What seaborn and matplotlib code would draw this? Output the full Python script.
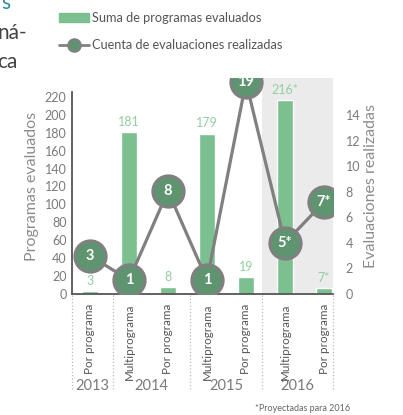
import pandas as pd
import seaborn as sns
import matplotlib.pyplot as plt
from matplotlib.patches import Patch
from matplotlib.lines import Line2D

# data
anios = ['2013', '2014', '2015', '2016']
categorias = ['Por programa', 'Multiprograma', 'Por programa', 'Multiprograma',
              'Por programa', 'Multiprograma', 'Por programa']
programas = [3, 181, 8, 179, 19, 216, 7]
programas_etiquetas = ['3', '181', '8', '179', '19', '216*', '7*']
evaluaciones_etiquetas = ['3', '1', '8', '1', '19', '5*', '7*']
evaluaciones_altura = [3.0, 1.1, 8.05, 1.1, 16.6, 4.0, 7.2]

sns.set_style('white')
plt.rcParams['font.family'] = ['Lato', 'DejaVu Sans']

verde_barra = '#7dc08f'
verde_texto = '#93cfa3'
verde_circulo = '#5e9470'
gris_linea = '#808080'
gris_texto = '#7a7a7a'

df = pd.DataFrame({'pos': [str(i) for i in range(len(programas))],
                   'programas': programas})

fig = plt.figure(figsize=(4.03, 4.15), dpi=100)
ax = fig.add_axes([72 / 403, 1 - 294 / 415, 261 / 403, 216 / 415])

ax.axvspan(4.42, 6.23, color='#ebebeb', zorder=0, lw=0)
sns.barplot(data=df, x='pos', y='programas', ax=ax, color=verde_barra,
            width=0.41, saturation=1, zorder=2)
for i, (v, t) in enumerate(zip(programas, programas_etiquetas)):
    ax.annotate(t, (i, v), xytext=(0, 3), textcoords='offset points',
                ha='center', va='bottom', color=verde_texto, fontsize=9)

ax.set_xlim(-0.46, 6.23)
ax.set_ylim(0, 241)
ax.set_yticks(range(0, 221, 20))
ax.set_xticks(range(len(categorias)))
ax.set_xticklabels(categorias, rotation=90, va='top', fontsize=8.4, color='#555555')
ax.tick_params(axis='x', length=0, pad=7)
ax.tick_params(axis='y', length=0, pad=4, labelsize=9, labelcolor=gris_texto)
ax.set_xlabel('')
ax.set_ylabel('Programas evaluados', fontsize=11.5, color='#8c8c8c', labelpad=4)
for s in ['top', 'right']:
    ax.spines[s].set_visible(False)
ax.spines['left'].set_bounds(0, 225)
for s in ['left', 'bottom']:
    ax.spines[s].set_color('#555555')
    ax.spines[s].set_linewidth(1.3)

# group separators and year labels
separadores = [-0.46, 0.58, 2.56, 4.42, 6.23]
for x in separadores:
    ax.axvline(x, ymin=-0.44, ymax=0, clip_on=False, ls=':', color='#bbbbbb', lw=0.9)
for j, anio in enumerate(anios):
    xc = (separadores[j] + separadores[j + 1]) / 2
    ax.text(xc, -0.425, anio, transform=ax.get_xaxis_transform(), ha='center',
            va='center', fontsize=10.5, color=gris_texto)

ax2 = ax.twinx()
sns.lineplot(x=list(range(len(evaluaciones_altura))), y=evaluaciones_altura, ax=ax2,
             color=gris_linea, lw=2.3, marker='o', markersize=22.5,
             markerfacecolor=verde_circulo, markeredgecolor=gris_linea,
             markeredgewidth=2.2, sort=False)
for i, (v, t) in enumerate(zip(evaluaciones_altura, evaluaciones_etiquetas)):
    ax2.text(i, v, t, ha='center', va='center', color='white', fontsize=10.5,
             fontweight='bold', zorder=5)
ax2.set_ylim(0, 16.9)
ax2.set_yticks(range(0, 15, 2))
ax2.tick_params(axis='y', length=0, pad=9, labelsize=9, labelcolor=gris_texto)
ax2.set_ylabel('Evaluaciones realizadas', fontsize=11.5, color='#8c8c8c', labelpad=3)
for s in ['top', 'right', 'left', 'bottom']:
    ax2.spines[s].set_visible(False)

handles = [Patch(color=verde_barra),
           Line2D([0], [0], color=gris_linea, lw=2, marker='o', markersize=9,
                  markerfacecolor=verde_circulo, markeredgecolor=gris_linea,
                  markeredgewidth=1.5)]
fig.legend(handles, ['Suma de programas evaluados', 'Cuenta de evaluaciones realizadas'],
           loc='upper left', bbox_to_anchor=(47 / 403, 1.0), frameon=False,
           fontsize=9.2, handlelength=2.4, handletextpad=0.2, labelspacing=1.25,
           labelcolor='#555555')

# fragments of neighbouring text cut off at the left edge
fig.text(10 / 403, 1 - 3 / 415, 's', ha='right', va='center', fontsize=15, color='#2a8c9a')
fig.text(27 / 403, 1 - 33 / 415, 'ná-', ha='right', va='center', fontsize=15, color='#444444')
fig.text(17 / 403, 1 - 62 / 415, 'ca', ha='right', va='center', fontsize=15, color='#444444')

fig.text(350 / 403, 1 - 408 / 415, '*Proyectadas para 2016', ha='right', va='center',
         fontsize=6.5, color='#666666')

fig.savefig('out.png', dpi=100)
